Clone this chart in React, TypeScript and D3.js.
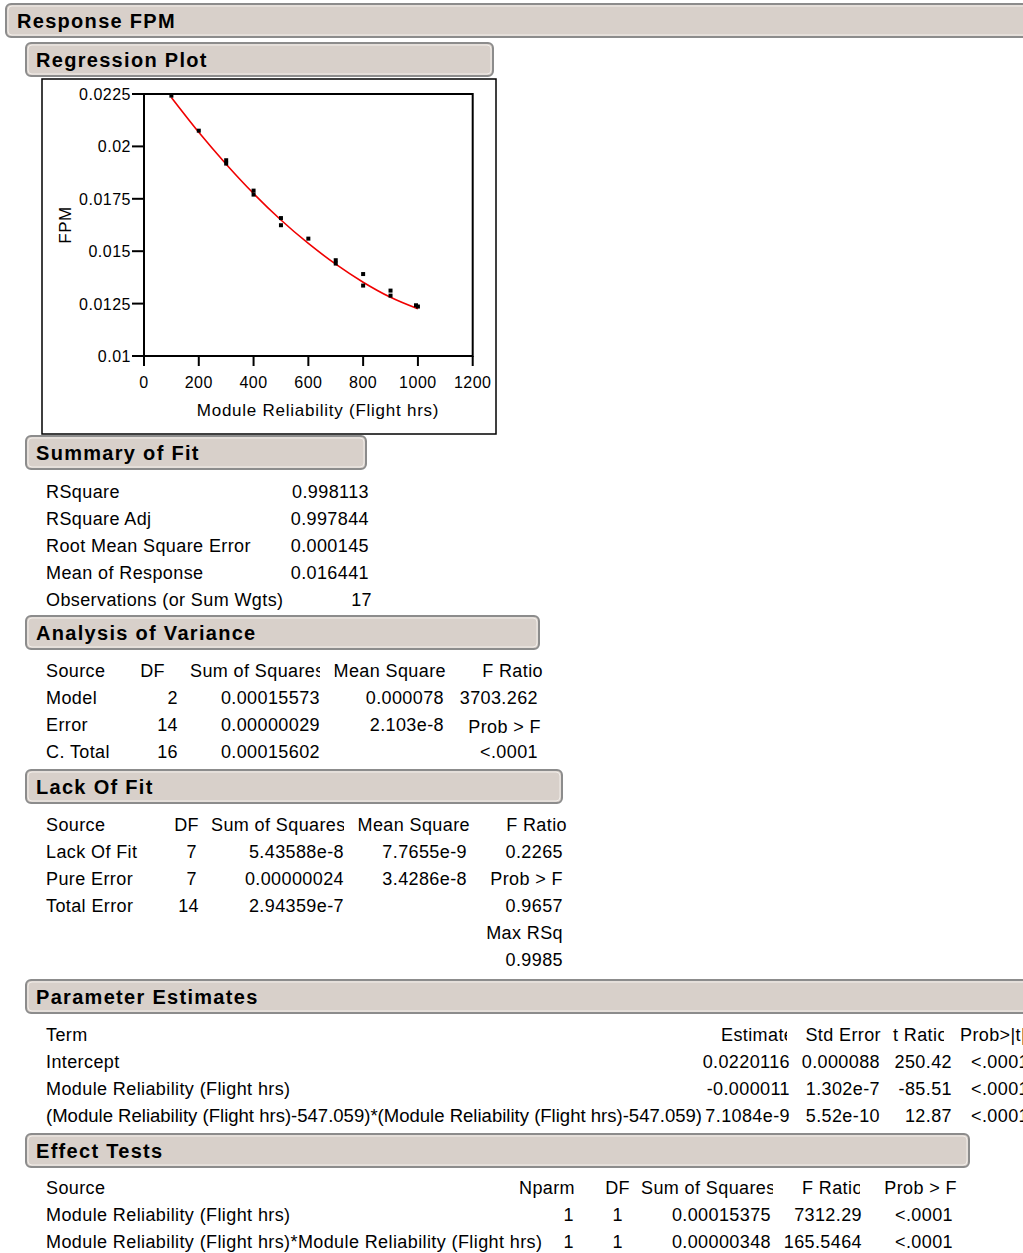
import React from "react";
import * as d3 from "d3";

// ---------- data ----------
const obsX = [100, 200, 300, 300, 400, 400, 500, 500, 600, 700, 700, 800, 800, 900, 900, 993, 1000];
const obsY = [0.02242, 0.02075, 0.01934, 0.01918, 0.01789, 0.0177, 0.01658, 0.01624, 0.0156, 0.01457, 0.01441, 0.01391, 0.01336, 0.01312, 0.01288, 0.01242, 0.01236];
const fitX = [100, 200, 300, 400, 500, 600, 700, 800, 900, 1000];
const fitY = [0.02233, 0.02067, 0.01915, 0.01775, 0.01649, 0.01537, 0.01438, 0.01352, 0.0128, 0.01225];
const xTicks = [0, 200, 400, 600, 800, 1000, 1200];
const yTicks = [0.01, 0.0125, 0.015, 0.0175, 0.02, 0.0225];
const yTickLabels = ["0.01", "0.0125", "0.015", "0.0175", "0.02", "0.0225"];

const summaryLabels = ["RSquare", "RSquare Adj", "Root Mean Square Error", "Mean of Response", "Observations (or Sum Wgts)"];
const summaryValues = ["0.998113", "0.997844", "0.000145", "0.016441", "17"];

const anovaSource = ["Model", "Error", "C. Total"];
const anovaDF = ["2", "14", "16"];
const anovaSS = ["0.00015573", "0.00000029", "0.00015602"];
const anovaMS = ["0.000078", "2.103e-8", ""];
const anovaF = ["3703.262", "Prob > F", "<.0001"];

const lofSource = ["Lack Of Fit", "Pure Error", "Total Error"];
const lofDF = ["7", "7", "14"];
const lofSS = ["5.43588e-8", "0.00000024", "2.94359e-7"];
const lofMS = ["7.7655e-9", "3.4286e-8", ""];
const lofF = ["0.2265", "Prob > F", "0.9657", "Max RSq", "0.9985"];

const peTerm = ["Intercept", "Module Reliability (Flight hrs)", "(Module Reliability (Flight hrs)-547.059)*(Module Reliability (Flight hrs)-547.059)"];
const peEstimate = ["0.0220116", "-0.000011", "7.1084e-9"];
const peStdErr = ["0.000088", "1.302e-7", "5.52e-10"];
const peT = ["250.42", "-85.51", "12.87"];
const peP = ["<.0001", "<.0001", "<.0001"];

const etSource = ["Module Reliability (Flight hrs)", "Module Reliability (Flight hrs)*Module Reliability (Flight hrs)"];
const etNparm = ["1", "1"];
const etDF = ["1", "1"];
const etSS = ["0.00015375", "0.00000348"];
const etF = ["7312.29", "165.5464"];
const etP = ["<.0001", "<.0001"];

// ---------- helpers ----------
const FONT = "'Liberation Sans', Arial, sans-serif";
const FS = 18;
const LS = 0.4;
const ROW = 27;

function Bar({ x, y, w, label, left }: { x: number; y: number; w: number; label: string; left: number }) {
  return (
    <g>
      <rect x={x} y={y} width={w} height={33} rx={5} ry={5} fill="#d8d0ca" stroke="#8c8c8c" strokeWidth={2} />
      <rect x={x + 2} y={y + 2} width={w - 4} height={29} rx={4} ry={4} fill="none" stroke="#f2eeea" strokeWidth={1} />
      <text x={left} y={y + 23.5} fontFamily={FONT} fontSize={20} fontWeight="bold" letterSpacing={1.3} fill="#000">
        {label}
      </text>
    </g>
  );
}

function T({ x, y, s, a = "start", clip, len }: { x: number; y: number; s: string; a?: string; clip?: string; len?: number }) {
  return (
    <text
      x={x}
      y={y + 6.5}
      fontFamily={FONT}
      fontSize={FS}
      letterSpacing={len ? 0 : LS}
      textAnchor={a as any}
      fill="#000"
      textLength={len}
      lengthAdjust={len ? "spacingAndGlyphs" : undefined}
      clipPath={clip ? `url(#${clip})` : undefined}
    >
      {s}
    </text>
  );
}

export default function App() {
  const xs = d3.scaleLinear().domain([0, 1200]).range([144, 472.7]);
  const ys = d3.scaleLinear().domain([0.01, 0.0225]).range([356, 94]);
  const fitLine = d3
    .line<number>()
    .x((_, i) => xs(fitX[i]))
    .y((d) => ys(d))
    .curve(d3.curveMonotoneX)(fitY) as string;

  const sumY0 = 491;
  const anY0 = 670;
  const lofY0 = 824;
  const peY0 = 1034;
  const etY0 = 1187;

  return (
    <svg width={1023} height={1253} style={{ position: "absolute", left: 0, top: 0, background: "#fff" }}>
      <defs>
        <clipPath id="cAnSS"><rect x={180} y={650} width={140} height={40} /></clipPath>
        <clipPath id="cLofSS"><rect x={205} y={805} width={139} height={40} /></clipPath>
        <clipPath id="cEst"><rect x={700} y={1015} width={87} height={40} /></clipPath>
        <clipPath id="cTR"><rect x={880} y={1015} width={64} height={40} /></clipPath>
        <clipPath id="cEtSS"><rect x={630} y={1168} width={143} height={40} /></clipPath>
        <clipPath id="cEtF"><rect x={780} y={1168} width={80} height={40} /></clipPath>
      </defs>

      <Bar x={6} y={4} w={1040} label="Response FPM" left={17} />
      <Bar x={26} y={43} w={467} label="Regression Plot" left={36} />

      {/* Plot frame */}
      <rect x={42} y={79} width={454} height={355} fill="#fff" stroke="#000" strokeWidth={1.5} />
      <rect x={xs(0)} y={ys(0.0225)} width={xs(1200) - xs(0)} height={ys(0.01) - ys(0.0225)} fill="none" stroke="#000" strokeWidth={2} />
      {yTicks.map((t, i) => (
        <g key={"yt" + i}>
          <line x1={xs(0) - 12} x2={xs(0)} y1={ys(t)} y2={ys(t)} stroke="#000" strokeWidth={2} />
          <text x={xs(0) - 13} y={ys(t) + 6} fontFamily={FONT} fontSize={16} letterSpacing={0.5} textAnchor="end">
            {yTickLabels[i]}
          </text>
        </g>
      ))}
      {xTicks.map((t, i) => (
        <g key={"xt" + i}>
          <line x1={xs(t)} x2={xs(t)} y1={ys(0.01)} y2={ys(0.01) + 10} stroke="#000" strokeWidth={2} />
          <text x={xs(t)} y={ys(0.01) + 32} fontFamily={FONT} fontSize={16} letterSpacing={0.5} textAnchor="middle">
            {String(t)}
          </text>
        </g>
      ))}
      <text x={318} y={416} fontFamily={FONT} fontSize={17} letterSpacing={0.75} textAnchor="middle">
        Module Reliability (Flight hrs)
      </text>
      <text transform="translate(71,225) rotate(-90)" fontFamily={FONT} fontSize={17} letterSpacing={0.5} textAnchor="middle">
        FPM
      </text>
      <path d={fitLine} fill="none" stroke="#f00000" strokeWidth={1.6} />
      {obsX.map((v, i) => (
        <rect key={"p" + i} x={xs(v) - 2} y={ys(obsY[i]) - 2} width={4} height={4} fill="#000" />
      ))}

      {/* Summary of Fit */}
      <Bar x={26} y={436} w={340} label="Summary of Fit" left={36} />
      {summaryLabels.map((s, i) => (
        <g key={"sf" + i}>
          <T x={46} y={sumY0 + i * ROW} s={s} />
          <T x={i === 4 ? 372 : 369} y={sumY0 + i * ROW} s={summaryValues[i]} a="end" />
        </g>
      ))}

      {/* Analysis of Variance */}
      <Bar x={26} y={616} w={513} label="Analysis of Variance" left={36} />
      <T x={46} y={anY0} s="Source" />
      <T x={165} y={anY0} s="DF" a="end" />
      <T x={190} y={anY0} s="Sum of Squares" clip="cAnSS" />
      <T x={446} y={anY0} s="Mean Square" a="end" />
      <T x={543} y={anY0} s="F Ratio" a="end" />
      {anovaSource.map((s, i) => (
        <g key={"an" + i}>
          <T x={46} y={anY0 + (i + 1) * ROW} s={s} />
          <T x={178} y={anY0 + (i + 1) * ROW} s={anovaDF[i]} a="end" />
          <T x={320} y={anY0 + (i + 1) * ROW} s={anovaSS[i]} a="end" />
          <T x={444} y={anY0 + (i + 1) * ROW} s={anovaMS[i]} a="end" />
          <T x={i === 1 ? 541 : 538} y={anY0 + (i + 1) * ROW + (i === 1 ? 2 : 0)} s={anovaF[i]} a="end" />
        </g>
      ))}

      {/* Lack Of Fit */}
      <Bar x={26} y={770} w={536} label="Lack Of Fit" left={36} />
      <T x={46} y={lofY0} s="Source" />
      <T x={199} y={lofY0} s="DF" a="end" />
      <T x={211} y={lofY0} s="Sum of Squares" clip="cLofSS" />
      <T x={470} y={lofY0} s="Mean Square" a="end" />
      <T x={567} y={lofY0} s="F Ratio" a="end" />
      {lofSource.map((s, i) => (
        <g key={"lf" + i}>
          <T x={46} y={lofY0 + (i + 1) * ROW} s={s} />
          <T x={i === 2 ? 199 : 197} y={lofY0 + (i + 1) * ROW} s={lofDF[i]} a="end" />
          <T x={344} y={lofY0 + (i + 1) * ROW} s={lofSS[i]} a="end" />
          <T x={467} y={lofY0 + (i + 1) * ROW} s={lofMS[i]} a="end" />
        </g>
      ))}
      {lofF.map((s, i) => (
        <T key={"lff" + i} x={563} y={lofY0 + (i + 1) * ROW} s={s} a="end" />
      ))}

      {/* Parameter Estimates */}
      <Bar x={26} y={980} w={1020} label="Parameter Estimates" left={36} />
      <T x={46} y={peY0} s="Term" />
      <T x={721} y={peY0} s="Estimate" clip="cEst" />
      <T x={881} y={peY0} s="Std Error" a="end" />
      <T x={893} y={peY0} s="t Ratio" clip="cTR" />
      <T x={960} y={peY0} s="Prob>|t|" />
      {peTerm.map((s, i) => (
        <g key={"pe" + i}>
          <T x={46} y={peY0 + (i + 1) * ROW} s={s} len={i === 2 ? 656 : undefined} />
          <T x={790} y={peY0 + (i + 1) * ROW} s={peEstimate[i]} a="end" />
          <T x={880} y={peY0 + (i + 1) * ROW} s={peStdErr[i]} a="end" />
          <T x={952} y={peY0 + (i + 1) * ROW} s={peT[i]} a="end" />
          <T x={971} y={peY0 + (i + 1) * ROW} s={peP[i]} />
        </g>
      ))}

      {/* Effect Tests */}
      <Bar x={26} y={1134} w={943} label="Effect Tests" left={36} />
      <T x={46} y={etY0} s="Source" />
      <T x={575} y={etY0} s="Nparm" a="end" />
      <T x={630} y={etY0} s="DF" a="end" />
      <T x={641} y={etY0} s="Sum of Squares" clip="cEtSS" />
      <T x={802} y={etY0} s="F Ratio" clip="cEtF" />
      <T x={957} y={etY0} s="Prob > F" a="end" />
      {etSource.map((s, i) => (
        <g key={"et" + i}>
          <T x={46} y={etY0 + (i + 1) * ROW} s={s} />
          <T x={574} y={etY0 + (i + 1) * ROW} s={etNparm[i]} a="end" />
          <T x={623} y={etY0 + (i + 1) * ROW} s={etDF[i]} a="end" />
          <T x={771} y={etY0 + (i + 1) * ROW} s={etSS[i]} a="end" />
          <T x={862} y={etY0 + (i + 1) * ROW} s={etF[i]} a="end" />
          <T x={953} y={etY0 + (i + 1) * ROW} s={etP[i]} a="end" />
        </g>
      ))}
    </svg>
  );
}
